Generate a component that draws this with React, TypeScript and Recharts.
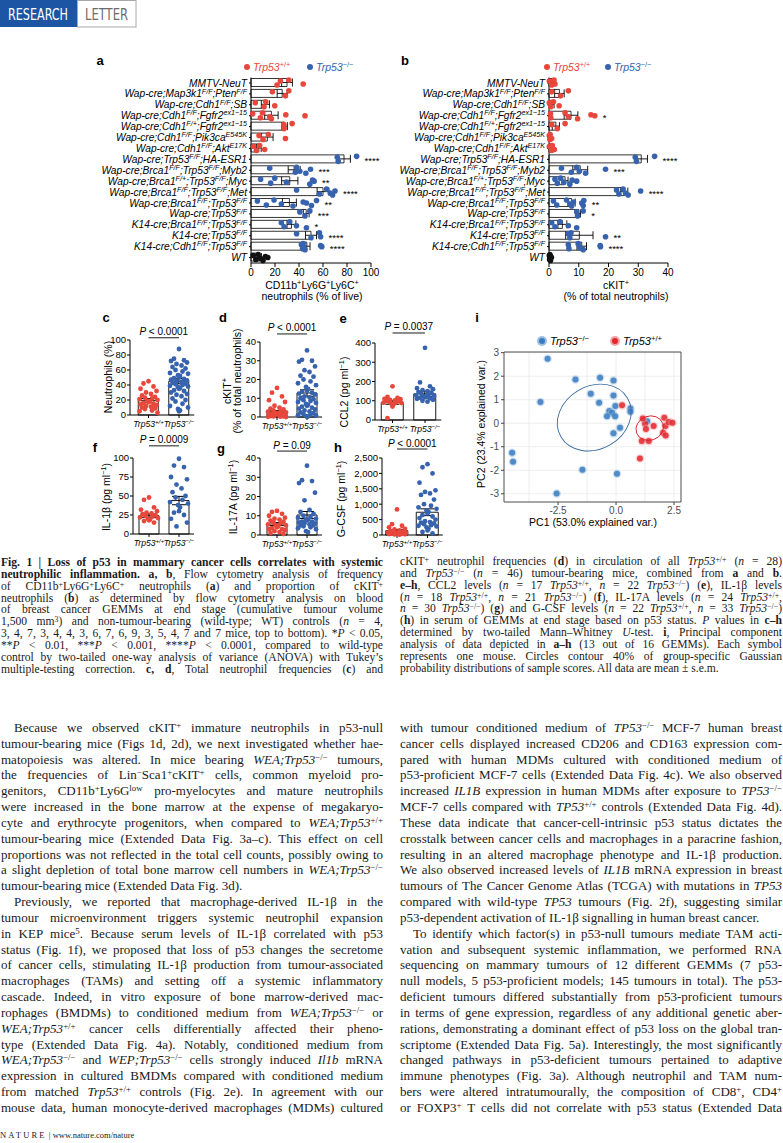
import React from "react";
import {
  Bar,
  CartesianGrid,
  ComposedChart,
  ErrorBar,
  ReferenceArea,
  ReferenceLine,
  Scatter,
  ScatterChart,
  XAxis,
  YAxis,
} from "recharts";

const SANS = "'Liberation Sans', Arial, Helvetica, sans-serif";
const SERIF = "'Liberation Serif', 'Times New Roman', serif";
const RED = "#e8473b";
const BLUE = "#3763ae";
const INK = "#1a1a1a";

// ---- panels a, b: GEMM rows (sup text between ^ marks)
const MODELS = [
  "MMTV-NeuT",
  "Wap-cre;Map3k1^F/F^;Pten^F/F^",
  "Wap-cre;Cdh1^F/F^;SB",
  "Wap-cre;Cdh1^F/F^;Fgfr2^ex1−15^",
  "Wap-cre;Cdh1^F/+^;Fgfr2^ex1−15^",
  "Wap-cre;Cdh1^F/F^;Pik3ca^E545K^",
  "Wap-cre;Cdh1^F/F^;Akt^E17K^",
  "Wap-cre;Trp53^F/F^;HA-ESR1",
  "Wap-cre;Brca1^F/F^;Trp53^F/F^;Myb2",
  "Wap-cre;Brca1^F/+^;Trp53^F/F^;Myc",
  "Wap-cre;Brca1^F/F^;Trp53^F/F^;Met",
  "Wap-cre;Brca1^F/F^;Trp53^F/F^",
  "Wap-cre;Trp53^F/F^",
  "K14-cre;Brca1^F/F^;Trp53^F/F^",
  "K14-cre;Trp53^F/F^",
  "K14-cre;Cdh1^F/F^;Trp53^F/F^",
  "WT",
];
const GENO = ["wt", "wt", "wt", "wt", "wt", "wt", "wt", "ko", "ko", "ko", "ko", "ko", "ko", "ko", "ko", "ko", "ctrl"];

const A_MEAN = [30, 26, 12, 17, 28, 13.6, 6.5, 77.5, 36, 32.3, 60, 32, 46, 33.7, 50, 46.5, 7.2];
const A_SEM = [4.5, 4.2, 3.4, 5.6, 2.3, 4.8, 2, 5.3, 5, 6.8, 4.9, 5.8, 2.4, 3.7, 4.6, 2.7, 1.6];
const A_PTS = [
  [24.5, 21.7, 31.5, 43.5],
  [17.8, 28.7, 31.5],
  [3.6, 10.9, 12.3, 19.8],
  [1.4, 7.8, 9.5, 15.6, 17, 29, 45],
  [27.3, 27.6, 34.3],
  [6.7, 10, 14.5, 28.7],
  [2.2, 4.5, 7.2, 11.4],
  [71.9, 72.7, 88],
  [15.6, 37, 38, 40.7, 45.7, 49.6],
  [8, 16.4, 19.8, 29.5, 49, 51.3, 52.6],
  [38, 57, 63, 66, 68, 70],
  [5.3, 12.8, 19.2, 25.3, 35, 43.5, 46.2, 50.4, 54.6],
  [40.7, 45, 49],
  [25.3, 27.6, 32.3, 37.9, 46.2],
  [38, 50, 57, 58],
  [42, 43, 43.5, 44, 45, 58, 59],
  [2, 4, 6, 8, 10, 12, 14],
];
const A_STARS = ["", "", "", "", "", "", "", "****", "***", "**", "****", "**", "***", "*", "****", "****", ""];
const A_TICKS = [0, 20, 40, 60, 80, 100];

const B_MEAN = [1, 3.5, 1, 7.4, 2.3, 0.4, 0.9, 31, 10.5, 5.4, 25.3, 7.6, 10, 4.5, 10.2, 11, 0.4];
const B_SEM = [0.4, 1.6, 0.7, 2.3, 1.2, 0.2, 0.3, 2.1, 2.5, 1, 1.2, 1.2, 0.6, 1.5, 4.6, 1.6, 0.1];
const B_PTS = [
  [0.1, 0.9, 1.7, 2],
  [0.9, 3.9, 6.5],
  [0.1, 0.6, 1.5, 3.4],
  [0.5, 0.6, 5.4, 6.5, 9.6, 14.1, 15.4],
  [0.9, 2.8, 5.4],
  [0.1, 0.3, 0.4, 0.9],
  [0.1, 0.9, 1.1, 1.8],
  [29, 29.4, 35.5],
  [4.2, 7.5, 9.3, 10.2, 12.3, 19],
  [2, 2.8, 3.9, 5, 7, 7.8, 9.3],
  [22.7, 23.5, 24.9, 25.7, 26.6, 30.8],
  [1.5, 2.6, 5.9, 7, 7.6, 8.2, 11, 11.5, 11.7],
  [9.3, 9.6, 11.5],
  [0.9, 2, 3.7, 6.5, 9.3],
  [6.5, 7, 7.4, 19],
  [6.5, 6.7, 9.8, 10.4, 11.5, 17.2, 17.3],
  [0.1, 0.2, 0.3, 0.4, 0.5, 0.6, 0.8],
];
const B_STARS = ["", "", "", "*", "", "", "", "****", "***", "", "****", "**", "*", "", "**", "****", ""];
const B_TICKS = [0, 10, 20, 30, 40];

// ---- panels c–h
const GROUPS = ["Trp53^+/+^", "Trp53^−/−^"];

const C_MEAN = [19.5, 45];
const C_SEM = [2.5, 3.5];
const C_WT = [45, 42, 38, 35, 32, 30, 28, 26, 24, 23, 22, 21, 20, 19, 18, 17, 16, 15, 14, 13, 12, 11, 10, 9, 8, 6, 5, 3];
const C_KO = [88, 75, 73, 72, 70, 68, 66, 64, 62, 60, 58, 56, 55, 53, 52, 50, 49, 48, 47, 46, 45, 44, 43, 42, 41, 40, 39, 38, 37, 36, 35, 33, 32, 30, 28, 27, 25, 22, 20, 18, 15, 12, 10, 8, 6, 5];

const D_MEAN = [2.8, 12.8];
const D_SEM = [0.7, 1.7];
const D_WT = [15.5, 13, 11, 9, 8, 6, 5, 4.5, 4, 3.5, 3, 2.8, 2.5, 2.2, 2, 1.8, 1.5, 1.3, 1.1, 1, 0.8, 0.6, 0.5, 0.4, 0.3, 0.2, 0.1, 0];
const D_KO = [35.5, 30.5, 30, 29.5, 27, 25, 24, 22, 21.5, 20, 19, 18, 17, 16, 15, 14, 13.5, 13, 12.5, 12, 11, 10.5, 10, 9.5, 9, 8.5, 8, 7.5, 7, 6.5, 6, 5.5, 5, 4.5, 4, 3.5, 3, 2.5, 2, 1.5, 1.2, 1, 0.8, 0.5, 0.3, 0.1];

const E_MEAN = [91, 136];
const E_SEM = [9, 14];
const E_WT = [175, 120, 115, 110, 108, 105, 102, 100, 98, 95, 92, 90, 88, 85, 80, 70, 10];
const E_KO = [375, 195, 175, 165, 160, 155, 150, 145, 140, 135, 130, 128, 125, 122, 120, 118, 115, 112, 110, 105, 100, 95];

const F_MEAN = [24, 44];
const F_SEM = [2.5, 5.5];
const F_WT = [48, 45, 35, 32, 30, 28, 27, 26, 25, 24, 23, 22, 21, 20, 19, 18, 17, 15];
const F_KO = [99, 90, 88, 75, 72, 65, 60, 55, 50, 48, 45, 42, 40, 38, 35, 30, 28, 25, 20, 15, 10];

const G_MEAN = [5.7, 10.4];
const G_SEM = [0.8, 1.8];
const G_WT = [12.5, 12, 11, 10, 9, 8.5, 8, 7.5, 7, 6.5, 6, 5.5, 5, 5, 4.5, 4, 3.5, 3, 3, 2.5, 2, 1.5, 1, 0.5];
const G_KO = [36, 28.5, 28, 27, 22, 18, 13, 12, 11, 10, 9.5, 9, 8.5, 8, 8, 7.5, 7, 7, 6.5, 6, 6, 5.5, 5, 5, 4.5, 4, 3.5, 3, 2, 1.5];

const H_MEAN = [141, 739];
const H_SEM = [40, 110];
const H_WT = [830, 350, 300, 250, 200, 180, 150, 130, 120, 100, 90, 80, 70, 60, 50, 45, 40, 35, 30, 25, 20, 10];
const H_KO = [2300, 2200, 2000, 1700, 1450, 1400, 1350, 1300, 1150, 1000, 950, 900, 850, 800, 750, 700, 650, 600, 550, 500, 450, 420, 400, 380, 350, 320, 300, 280, 250, 200, 150, 100, 50];

// ---- panel i: PCA scores [PC1, PC2]
const PCA_KO: [number, number][] = [
  [-2.95, 2.74], [-3.26, 0.9], [-4.48, -1.26], [-4.44, -1.64], [-2.56, -2.99],
  [-1.75, 1.86], [-0.69, 1.94], [-0.11, 1.82], [-1.09, 1.25], [-0.11, 1.18],
  [-0.73, 0.87], [-0.03, 0.73], [-0.29, 0.52], [-0.17, 0.45], [-0.39, 0.3],
  [-0.04, 0.3], [0.62, 0.63], [0.62, 0.49], [0.17, -0.19], [-0.11, -0.43],
  [-1.45, -1.98], [0.04, -2.15], [1.34, 0.08],
];
const PCA_WT: [number, number][] = [
  [0.26, 0.76], [1.25, -0.02], [1.29, -0.24], [1.62, -0.12], [1.11, -0.76],
  [1.41, -0.76], [1.03, -1.5], [2.08, 0.23], [2.13, -0.12], [2.03, -0.4],
  [2.14, -0.52], [2.27, 0.05], [2.43, 0.02], [1.15, 0.2],
];
// 40% contours: centre, semi-axes (PC1 units), tilt
const ELL_KO = { x: -0.94, y: 0.24, rx: 1.66, ry: 1.36, tilt: -30 };
const ELL_WT = { x: 1.45, y: -0.21, rx: 0.6, ry: 0.52, tilt: -20 };
const PCA_X: [number, number] = [-4.83, 2.8];
const PCA_Y: [number, number] = [-3.35, 3.03];

// ---- text
const CAP_LEFT = [
  "<b>Fig. 1 | Loss of p53 in mammary cancer cells correlates with systemic</b>",
  "<b>neutrophilic inflammation. a, b</b>, Flow cytometry analysis of frequency",
  "of CD11b<sup>+</sup>Ly6G<sup>+</sup>Ly6C<sup>+</sup> neutrophils (<b>a</b>) and proportion of cKIT<sup>+</sup>",
  "neutrophils (<b>b</b>) as determined by flow cytometry analysis on blood",
  "of breast cancer GEMMs at end stage (cumulative tumour volume",
  "1,500 mm<sup>3</sup>) and non-tumour-bearing (wild-type; WT) controls (<i>n</i> = 4,",
  "3, 4, 7, 3, 4, 4, 3, 6, 7, 6, 9, 3, 5, 4, 7 and 7 mice, top to bottom). *<i>P</i> &lt; 0.05,",
  "**<i>P</i> &lt; 0.01, ***<i>P</i> &lt; 0.001, ****<i>P</i> &lt; 0.0001, compared to wild-type",
  "control by two-tailed one-way analysis of variance (ANOVA) with Tukey’s",
  "multiple-testing correction. <b>c, d</b>, Total neutrophil frequencies (<b>c</b>) and",
];
const CAP_RIGHT = [
  "cKIT<sup>+</sup> neutrophil frequencies (<b>d</b>) in circulation of all <i>Trp53</i><sup>+/+</sup> (<i>n</i> = 28)",
  "and <i>Trp53</i><sup>−/−</sup> (<i>n</i> = 46) tumour-bearing mice, combined from <b>a</b> and <b>b</b>.",
  "<b>e–h</b>, CCL2 levels (<i>n</i> = 17 <i>Trp53</i><sup>+/+</sup>, <i>n</i> = 22 <i>Trp53</i><sup>−/−</sup>) (<b>e</b>), IL-1β levels",
  "(<i>n</i> = 18 <i>Trp53</i><sup>+/+</sup>, <i>n</i> = 21 <i>Trp53</i><sup>−/−</sup>) (<b>f</b>), IL-17A levels (<i>n</i> = 24 <i>Trp53</i><sup>+/+</sup>,",
  "<i>n</i> = 30 <i>Trp53</i><sup>−/−</sup>) (<b>g</b>) and G-CSF levels (<i>n</i> = 22 <i>Trp53</i><sup>+/+</sup>, <i>n</i> = 33 <i>Trp53</i><sup>−/−</sup>)",
  "(<b>h</b>) in serum of GEMMs at end stage based on p53 status. <i>P</i> values in <b>c–h</b>",
  "determined by two-tailed Mann–Whitney <i>U</i>-test. <b>i</b>, Principal component",
  "analysis of data depicted in <b>a–h</b> (13 out of 16 GEMMs). Each symbol",
  "represents one mouse. Circles contour 40% of group-specific Gaussian",
  "probability distributions of sample scores. All data are mean ± s.e.m.",
];
const BODY_LEFT_1 = [
  "Because we observed cKIT<sup>+</sup> immature neutrophils in p53-null",
  "tumour-bearing mice (Figs 1d, 2d), we next investigated whether hae-",
  "matopoiesis was altered. In mice bearing <i>WEA;Trp53</i><sup>−/−</sup> tumours,",
  "the frequencies of Lin<sup>−</sup>Sca1<sup>+</sup>cKIT<sup>+</sup> cells, common myeloid pro-",
  "genitors, CD11b<sup>+</sup>Ly6G<sup>low</sup> pro-myelocytes and mature neutrophils",
  "were increased in the bone marrow at the expense of megakaryo-",
  "cyte and erythrocyte progenitors, when compared to <i>WEA;Trp53</i><sup>+/+</sup>",
  "tumour-bearing mice (Extended Data Fig. 3a–c). This effect on cell",
  "proportions was not reflected in the total cell counts, possibly owing to",
  "a slight depletion of total bone marrow cell numbers in <i>WEA;Trp53</i><sup>−/−</sup>",
  "tumour-bearing mice (Extended Data Fig. 3d).",
];
const BODY_LEFT_2 = [
  "Previously, we reported that macrophage-derived IL-1β in the",
  "tumour microenvironment triggers systemic neutrophil expansion",
  "in KEP mice<sup>5</sup>. Because serum levels of IL-1β correlated with p53",
  "status (Fig. 1f), we proposed that loss of p53 changes the secretome",
  "of cancer cells, stimulating IL-1β production from tumour-associated",
  "macrophages (TAMs) and setting off a systemic inflammatory",
  "cascade. Indeed, in vitro exposure of bone marrow-derived mac-",
  "rophages (BMDMs) to conditioned medium from <i>WEA;Trp53</i><sup>−/−</sup> or",
  "<i>WEA;Trp53</i><sup>+/+</sup> cancer cells differentially affected their pheno-",
  "type (Extended Data Fig. 4a). Notably, conditioned medium from",
  "<i>WEA;Trp53</i><sup>−/−</sup> and <i>WEP;Trp53</i><sup>−/−</sup> cells strongly induced <i>Il1b</i> mRNA",
  "expression in cultured BMDMs compared with conditioned medium",
  "from matched <i>Trp53</i><sup>+/+</sup> controls (Fig. 2e). In agreement with our",
  "mouse data, human monocyte-derived macrophages (MDMs) cultured",
];
const BODY_RIGHT_1 = [
  "with tumour conditioned medium of <i>TP53</i><sup>−/−</sup> MCF-7 human breast",
  "cancer cells displayed increased CD206 and CD163 expression com-",
  "pared with human MDMs cultured with conditioned medium of",
  "p53-proficient MCF-7 cells (Extended Data Fig. 4c). We also observed",
  "increased <i>IL1B</i> expression in human MDMs after exposure to <i>TP53</i><sup>−/−</sup>",
  "MCF-7 cells compared with <i>TP53</i><sup>+/+</sup> controls (Extended Data Fig. 4d).",
  "These data indicate that cancer-cell-intrinsic p53 status dictates the",
  "crosstalk between cancer cells and macrophages in a paracrine fashion,",
  "resulting in an altered macrophage phenotype and IL-1β production.",
  "We also observed increased levels of <i>IL1B</i> mRNA expression in breast",
  "tumours of The Cancer Genome Atlas (TCGA) with mutations in <i>TP53</i>",
  "compared with wild-type <i>TP53</i> tumours (Fig. 2f), suggesting similar",
  "p53-dependent activation of IL-1β signalling in human breast cancer.",
];
const BODY_RIGHT_2 = [
  "To identify which factor(s) in p53-null tumours mediate TAM acti-",
  "vation and subsequent systemic inflammation, we performed RNA",
  "sequencing on mammary tumours of 12 different GEMMs (7 p53-",
  "null models, 5 p53-proficient models; 145 tumours in total). The p53-",
  "deficient tumours differed substantially from p53-proficient tumours",
  "in terms of gene expression, regardless of any additional genetic aber-",
  "rations, demonstrating a dominant effect of p53 loss on the global tran-",
  "scriptome (Extended Data Fig. 5a). Interestingly, the most significantly",
  "changed pathways in p53-deficient tumours pertained to adaptive",
  "immune phenotypes (Fig. 3a). Although neutrophil and TAM num-",
  "bers were altered intratumourally, the composition of CD8<sup>+</sup>, CD4<sup>+</sup>",
  "or FOXP3<sup>+</sup> T cells did not correlate with p53 status (Extended Data",
];

// ---------- helpers
function rich(s: string, size: number) {
  const parts = s.split("^");
  const shift = size * 0.38;
  let up = false;
  return parts.map((p, i) => {
    const sup = i % 2 === 1;
    let dy: number | undefined;
    if (sup && !up) {
      dy = -shift;
      up = true;
    } else if (!sup && up) {
      dy = shift;
      up = false;
    }
    if (!p) return null;
    return (
      <tspan key={i} dy={dy} fontSize={sup ? size * 0.7 : size}>
        {p}
      </tspan>
    );
  });
}

const modelTick = (p: any) => (
  <text x={p.x} y={p.y} dy={3.6} textAnchor="end" fontSize={10.2} fontStyle="italic" fontFamily={SANS} fill="#000">
    {rich(String(p.payload.value), 10.2)}
  </text>
);

const groupTick = (p: any) => (
  <text x={p.x} y={p.y} dy={7} textAnchor="middle" fontSize={8.6} fontStyle="italic" fontFamily={SANS} fill="#000">
    {rich(String(p.payload.value), 8.6)}
  </text>
);

const DOT_COL: Record<string, string> = { wt: RED, ko: BLUE, ctrl: "#111" };
const ROW_JIT = [-2, 2, -3, 1, 3, -1, 0, 2.5, -2.5];
const rowDot = (p: any) => {
  if (!Number.isFinite(p.cx) || !Number.isFinite(p.cy)) return <g />;
  return <circle cx={p.cx} cy={p.cy + ROW_JIT[p.payload.k % ROW_JIT.length]} r={2.8} fill={DOT_COL[p.payload.g]} />;
};
const starMark = (p: any) => {
  if (!Number.isFinite(p.cx) || !Number.isFinite(p.cy)) return <g />;
  return (
    <text x={p.cx + 8} y={p.cy + 5} fontSize={9.5} fontFamily={SANS} fill="#000">
      {p.payload.s}
    </text>
  );
};

const SWARM = [0, -5, 5, -8, 8, -2.5, 2.5, -6.5, 6.5, -3.5, 3.5, -9, 9, -1, 1];
const swarmDot = (p: any) => {
  if (!Number.isFinite(p.cx) || !Number.isFinite(p.cy)) return <g />;
  return (
    <circle
      cx={p.cx + SWARM[p.payload.k % SWARM.length]}
      cy={p.cy}
      r={2.4}
      fill={p.payload.g === GROUPS[0] ? RED : BLUE}
    />
  );
};

const PLabel = (props: any) => {
  const vb = props.viewBox || {};
  const cx = (vb.x || 0) + (vb.width || 0) / 2;
  return (
    <text x={cx} y={(vb.y || 0) - 2.5} textAnchor="middle" fontSize={10} fontFamily={SANS} fill="#000">
      <tspan fontStyle="italic">P</tspan>
      {String(props.text).slice(1)}
    </text>
  );
};

const Sup = ({ children }: { children: React.ReactNode }) => (
  <span style={{ fontSize: "0.7em", verticalAlign: "0.45em", lineHeight: 0 }}>{children}</span>
);

type TProps = {
  x: number;
  y: number;
  children: React.ReactNode;
  size?: number;
  anchor?: "start" | "middle" | "end";
  rot?: number;
  style?: React.CSSProperties;
};
const T = ({ x, y, children, size = 10, anchor = "middle", rot = 0, style }: TProps) => {
  const dx = anchor === "middle" ? -50 : anchor === "end" ? -100 : 0;
  return (
    <div
      style={{
        position: "absolute",
        left: x,
        top: y,
        transform: `translate(${dx}%, -50%) rotate(${rot}deg)`,
        whiteSpace: "nowrap",
        fontSize: size,
        fontFamily: SANS,
        lineHeight: 1,
        color: "#000",
        ...style,
      }}
    >
      {children}
    </div>
  );
};
const Letter = ({ x, y, l }: { x: number; y: number; l: string }) => (
  <T x={x} y={y} size={13} style={{ fontWeight: 700 }}>
    {l}
  </T>
);
const Dot = ({ x, y, c, r = 3 }: { x: number; y: number; c: string; r?: number }) => (
  <div style={{ position: "absolute", left: x - r, top: y - r, width: 2 * r, height: 2 * r, borderRadius: "50%", background: c }} />
);

// ---------- panel a / b
type RowCfg = {
  left: number;
  axisX: number;
  plotRight: number;
  mean: number[];
  sem: number[];
  pts: number[][];
  stars: string[];
  ticks: number[];
};
function RowPanel({ left, axisX, plotRight, mean, sem, pts, stars, ticks }: RowCfg) {
  const top = 60;
  const y1 = 77.5;
  const y2 = 263;
  const bottom = 310;
  const right = plotRight + 26;
  const rows = MODELS.map((name, i) => ({ name, mean: mean[i], sem: sem[i] }));
  const dots = pts.flatMap((vals, r) => vals.map((v, k) => ({ name: MODELS[r], v, k, g: GENO[r] })));
  const marks = stars
    .map((s, r) => ({ name: MODELS[r], v: Math.max(...pts[r]), s }))
    .filter((d) => d.s);
  return (
    <div style={{ position: "absolute", left, top }}>
      <ComposedChart
        layout="vertical"
        width={right - left}
        height={bottom - top}
        data={rows}
        margin={{ top: y1 - top, right: right - plotRight, bottom: 0, left: 0 }}
      >
        <XAxis
          type="number"
          domain={[ticks[0], ticks[ticks.length - 1]]}
          ticks={ticks}
          interval={0}
          height={bottom - y2}
          stroke="#000"
          tickSize={4}
          tick={{ fontSize: 10, fill: "#000", fontFamily: SANS }}
        />
        <YAxis
          type="category"
          dataKey="name"
          allowDuplicatedCategory={false}
          interval={0}
          width={axisX - left}
          stroke="#000"
          tickSize={2}
          tickMargin={2}
          tick={modelTick}
        />
        <Bar dataKey="mean" barSize={8} fill="#fff" stroke="#000" strokeWidth={0.8} isAnimationActive={false}>
          <ErrorBar dataKey="sem" direction="x" width={4} stroke="#000" strokeWidth={0.9} />
        </Bar>
        <Scatter data={dots} dataKey="v" shape={rowDot} isAnimationActive={false} />
        <Scatter data={marks} dataKey="v" shape={starMark} isAnimationActive={false} />
      </ComposedChart>
    </div>
  );
}

// ---------- panels c–h
type DotCfg = {
  axisX: number;
  c1: number;
  c2: number;
  yTop: number;
  yBot: number;
  domain: [number, number];
  ticks: number[];
  fmt?: (v: number) => string;
  bar: number;
  mean: number[];
  sem: number[];
  wt: number[];
  ko: number[];
  p: string;
  pAt: number;
};
function DotPanel({ cfg }: { cfg: DotCfg }) {
  const band = cfg.c2 - cfg.c1;
  const x2 = cfg.c2 + band / 2;
  const padL = cfg.c1 - band / 2 - cfg.axisX;
  const left = cfg.axisX - 42;
  const top = cfg.yTop - 30;
  const right = x2 + 6;
  const bottom = cfg.yBot + 22;
  const bars = GROUPS.map((g, i) => ({ g, mean: cfg.mean[i], sem: cfg.sem[i] }));
  const dots = [
    ...cfg.wt.map((v, k) => ({ g: GROUPS[0], v, k })),
    ...cfg.ko.map((v, k) => ({ g: GROUPS[1], v, k })),
  ];
  return (
    <div style={{ position: "absolute", left, top }}>
      <ComposedChart
        width={right - left}
        height={bottom - top}
        data={bars}
        margin={{ top: cfg.yTop - top, right: right - x2, bottom: 0, left: 0 }}
      >
        <XAxis
          dataKey="g"
          type="category"
          allowDuplicatedCategory={false}
          interval={0}
          height={bottom - cfg.yBot}
          padding={{ left: padL, right: 0 }}
          stroke="#000"
          tickSize={3}
          tick={groupTick}
        />
        <YAxis
          type="number"
          domain={cfg.domain}
          ticks={cfg.ticks}
          interval={0}
          width={cfg.axisX - left}
          stroke="#000"
          tickSize={3}
          tickMargin={1}
          tickFormatter={cfg.fmt}
          tick={{ fontSize: 9.5, fill: "#000", fontFamily: SANS }}
        />
        <Scatter data={dots} dataKey="v" shape={swarmDot} isAnimationActive={false} />
        <Bar dataKey="mean" barSize={cfg.bar} fill="none" stroke="#000" strokeWidth={0.9} isAnimationActive={false}>
          <ErrorBar dataKey="sem" direction="y" width={7} stroke="#000" strokeWidth={1} />
        </Bar>
        <ReferenceLine
          segment={[
            { x: GROUPS[0], y: cfg.pAt },
            { x: GROUPS[1], y: cfg.pAt },
          ]}
          stroke="#000"
          strokeWidth={0.9}
          ifOverflow="visible"
          label={<PLabel text={cfg.p} />}
        />
      </ComposedChart>
    </div>
  );
}

const comma = (v: number) => v.toLocaleString("en-US");
const SMALL: DotCfg[] = [
  { axisX: 130, c1: 148.5, c2: 179, yTop: 340, yBot: 415, domain: [0, 100], ticks: [0, 20, 40, 60, 80, 100], bar: 20, mean: C_MEAN, sem: C_SEM, wt: C_WT, ko: C_KO, p: "P < 0.0001", pAt: 103 },
  { axisX: 260, c1: 277, c2: 307, yTop: 342, yBot: 417, domain: [0, 40], ticks: [0, 10, 20, 30, 40], bar: 20, mean: D_MEAN, sem: D_SEM, wt: D_WT, ko: D_KO, p: "P < 0.0001", pAt: 44.3 },
  { axisX: 375, c1: 392.5, c2: 425, yTop: 343, yBot: 420, domain: [0, 400], ticks: [0, 100, 200, 300, 400], bar: 22, mean: E_MEAN, sem: E_SEM, wt: E_WT, ko: E_KO, p: "P = 0.0037", pAt: 452 },
  { axisX: 133, c1: 149, c2: 179, yTop: 458, yBot: 534, domain: [0, 100], ticks: [0, 25, 50, 75, 100], bar: 20, mean: F_MEAN, sem: F_SEM, wt: F_WT, ko: F_KO, p: "P = 0.0009", pAt: 116 },
  { axisX: 260, c1: 277, c2: 307, yTop: 458, yBot: 535, domain: [0, 40], ticks: [0, 10, 20, 30, 40], bar: 20, mean: G_MEAN, sem: G_SEM, wt: G_WT, ko: G_KO, p: "P = 0.09", pAt: 43.6 },
  { axisX: 382, c1: 397, c2: 427.5, yTop: 458, yBot: 535, domain: [0, 2500], ticks: [0, 500, 1000, 1500, 2000, 2500], fmt: comma, bar: 22, mean: H_MEAN, sem: H_SEM, wt: H_WT, ko: H_KO, p: "P < 0.0001", pAt: 2792 },
];

// ---------- panel i
const PCA_PX = (681 - 504) / (PCA_X[1] - PCA_X[0]);
const pcaDot = (c: string, halo: string) => (p: any) => {
  if (!Number.isFinite(p.cx) || !Number.isFinite(p.cy)) return <g />;
  return (
    <g>
      <circle cx={p.cx} cy={p.cy} r={4.3} fill={halo} fillOpacity={0.45} />
      <circle cx={p.cx} cy={p.cy} r={3} fill={c} fillOpacity={0.85} />
    </g>
  );
};
const ellipse = (c: string) => (p: any) => {
  if (!Number.isFinite(p.cx) || !Number.isFinite(p.cy)) return <g />;
  const e = p.payload;
  return (
    <ellipse
      cx={p.cx}
      cy={p.cy}
      rx={e.rx * PCA_PX}
      ry={e.ry * PCA_PX}
      transform={`rotate(${e.tilt} ${p.cx} ${p.cy})`}
      fill="none"
      stroke={c}
      strokeWidth={0.9}
    />
  );
};
const PCA_BLUE = "#3b7cc0";
const PCA_RED = "#e2282f";

function PcaPanel() {
  const left = 470;
  const top = 340;
  const x1 = 504;
  const x2 = 681;
  const y1 = 352;
  const y2 = 502;
  const right = 690;
  const bottom = 520;
  const ko = PCA_KO.map(([x, y]) => ({ x, y }));
  const wt = PCA_WT.map(([x, y]) => ({ x, y }));
  return (
    <div style={{ position: "absolute", left, top }}>
      <ScatterChart
        width={right - left}
        height={bottom - top}
        margin={{ top: y1 - top, right: right - x2, bottom: 0, left: 0 }}
      >
        <CartesianGrid
          stroke="#e6e6e6"
          strokeWidth={0.7}
          horizontalValues={[-3, -2.5, -2, -1.5, -1, -0.5, 0, 0.5, 1, 1.5, 2, 2.5, 3]}
          verticalValues={[-3.75, -2.5, -1.25, 0, 1.25, 2.5]}
        />
        <XAxis
          type="number"
          dataKey="x"
          domain={PCA_X}
          allowDataOverflow
          ticks={[-2.5, 0, 2.5]}
          tickFormatter={(v: number) => v.toFixed(1)}
          height={bottom - y2}
          axisLine={false}
          stroke="#444"
          tickSize={3}
          tick={{ fontSize: 10, fill: "#4d4d4d", fontFamily: SANS }}
        />
        <YAxis
          type="number"
          dataKey="y"
          domain={PCA_Y}
          allowDataOverflow
          ticks={[-3, -2, -1, 0, 1, 2, 3]}
          width={x1 - left}
          axisLine={false}
          stroke="#444"
          tickSize={3}
          tick={{ fontSize: 10, fill: "#4d4d4d", fontFamily: SANS }}
        />
        <ReferenceArea x1={PCA_X[0]} x2={PCA_X[1]} y1={PCA_Y[0]} y2={PCA_Y[1]} fill="none" stroke="#4d4d4d" strokeWidth={1} />
        <Scatter data={ko} shape={pcaDot(PCA_BLUE, "#8fb8e0")} isAnimationActive={false} />
        <Scatter data={wt} shape={pcaDot(PCA_RED, "#f29a9a")} isAnimationActive={false} />
        <Scatter data={[ELL_KO]} shape={ellipse("#3a6aa0")} isAnimationActive={false} />
        <Scatter data={[ELL_WT]} shape={ellipse("#d9262e")} isAnimationActive={false} />
      </ScatterChart>
    </div>
  );
}

// ---------- text blocks
type Para = { lines: string[]; indent: boolean; end: boolean };
function TextBlock({ x, top, w, lh, size, paras }: { x: number; top: number; w: number; lh: number; size: number; paras: Para[] }) {
  let row = 0;
  const out: React.ReactNode[] = [];
  paras.forEach((p, pi) =>
    p.lines.forEach((line, li) => {
      const first = li === 0 && p.indent;
      const last = li === p.lines.length - 1 && p.end;
      out.push(
        <div
          key={`${pi}-${li}`}
          className="tx"
          style={{
            position: "absolute",
            left: x + (first ? 13 : 0),
            top: top + row * lh,
            width: w - (first ? 13 : 0),
            height: lh,
            lineHeight: `${lh}px`,
            fontSize: size,
            fontFamily: SERIF,
            color: INK,
            whiteSpace: "nowrap",
            textAlign: last ? "left" : "justify",
            textAlignLast: last ? "left" : "justify",
          }}
          dangerouslySetInnerHTML={{ __html: line }}
        />
      );
      row += 1;
    })
  );
  return <>{out}</>;
}

const TrpWT = () => (
  <>
    <i>Trp53</i>
    <Sup>+/+</Sup>
  </>
);
const TrpKO = () => (
  <>
    <i>Trp53</i>
    <Sup>−/−</Sup>
  </>
);
const PgMl = () => (
  <>
    (pg ml<Sup>−1</Sup>)
  </>
);

export default function App() {
  return (
    <div style={{ position: "absolute", left: 0, top: 0, width: 783, height: 1143, overflow: "hidden", background: "#fff" }}>
      <style>{`.tx sup{font-size:0.68em;line-height:0;vertical-align:0.42em}`}</style>

      {/* header */}
      <svg width={150} height={30} style={{ position: "absolute", left: 0, top: 0 }}>
        <rect x={0} y={0} width={77} height={27} fill="#1b55a3" />
        <rect x={77.5} y={0.5} width={58.5} height={26.5} fill="#fff" stroke="#a8a8a8" />
        <text x={8} y={20.3} fontSize={16} fill="#fff" fontFamily="'DejaVu Sans Condensed', 'DejaVu Sans', sans-serif" textLength={60} lengthAdjust="spacingAndGlyphs">
          RESEARCH
        </text>
        <text x={85} y={20.3} fontSize={16} fill="#6b6b6b" fontFamily="'DejaVu Sans Condensed', 'DejaVu Sans', sans-serif" textLength={43} lengthAdjust="spacingAndGlyphs">
          LETTER
        </text>
      </svg>

      {/* panel a */}
      <Letter x={100} y={60} l="a" />
      <Dot x={247} y={67} c={RED} />
      <T x={253} y={67} anchor="start" size={10.5} style={{ color: RED }}>
        <TrpWT />
      </T>
      <Dot x={310} y={67} c={BLUE} />
      <T x={316} y={67} anchor="start" size={10.5} style={{ color: BLUE }}>
        <TrpKO />
      </T>
      <RowPanel left={90} axisX={251} plotRight={371} mean={A_MEAN} sem={A_SEM} pts={A_PTS} stars={A_STARS} ticks={A_TICKS} />
      <T x={312} y={285} size={10.5}>
        CD11b<Sup>+</Sup>Ly6G<Sup>+</Sup>Ly6C<Sup>+</Sup>
      </T>
      <T x={312} y={296} size={10.5}>
        neutrophils (% of live)
      </T>

      {/* panel b */}
      <Letter x={405} y={60} l="b" />
      <Dot x={547} y={67} c={RED} />
      <T x={553} y={67} anchor="start" size={10.5} style={{ color: RED }}>
        <TrpWT />
      </T>
      <Dot x={608} y={67} c={BLUE} />
      <T x={614} y={67} anchor="start" size={10.5} style={{ color: BLUE }}>
        <TrpKO />
      </T>
      <RowPanel left={395} axisX={549} plotRight={668} mean={B_MEAN} sem={B_SEM} pts={B_PTS} stars={B_STARS} ticks={B_TICKS} />
      <T x={616} y={285} size={10.5}>
        cKIT<Sup>+</Sup>
      </T>
      <T x={616} y={296} size={10.5}>
        (% of total neutrophils)
      </T>

      {/* panels c–h */}
      {SMALL.map((cfg, i) => (
        <DotPanel key={i} cfg={cfg} />
      ))}
      <Letter x={106} y={317} l="c" />
      <Letter x={223} y={317} l="d" />
      <Letter x={343} y={318} l="e" />
      <Letter x={95} y={447} l="f" />
      <Letter x={221} y={448} l="g" />
      <Letter x={338} y={447} l="h" />
      <T x={108} y={377} rot={-90} size={10.5}>
        Neutrophils (%)
      </T>
      <T x={227} y={391} rot={-90} size={10.5}>
        cKIT<Sup>+</Sup>
      </T>
      <T x={237} y={381} rot={-90} size={10.5}>
        (% of total neutrophils)
      </T>
      <T x={344} y={392} rot={-90} size={10.5}>
        CCL2 <PgMl />
      </T>
      <T x={106} y={497} rot={-90} size={10.5}>
        IL-1β <PgMl />
      </T>
      <T x={233} y={497} rot={-90} size={10.5}>
        IL-17A <PgMl />
      </T>
      <T x={341} y={499} rot={-90} size={10.5}>
        G-CSF <PgMl />
      </T>

      {/* panel i */}
      <Letter x={477} y={317} l="i" />
      <Dot x={542} y={341} c="#9cc0e4" r={5} />
      <Dot x={542} y={341} c={PCA_BLUE} r={3.3} />
      <T x={550} y={341} anchor="start" size={11}>
        <TrpKO />
      </T>
      <Dot x={615} y={341} c="#f4a3a3" r={5} />
      <Dot x={615} y={341} c={PCA_RED} r={3.3} />
      <T x={623} y={341} anchor="start" size={11}>
        <TrpWT />
      </T>
      <PcaPanel />
      <T x={481} y={424} rot={-90} size={10.5}>
        PC2 (23.4% explained var.)
      </T>
      <T x={593} y={522} size={10.5}>
        PC1 (53.0% explained var.)
      </T>

      {/* caption */}
      <TextBlock x={1} top={557} w={382} lh={11.85} size={11.6} paras={[{ lines: CAP_LEFT, indent: false, end: false }]} />
      <TextBlock x={400} top={556} w={382} lh={11.85} size={11.6} paras={[{ lines: CAP_RIGHT, indent: false, end: true }]} />

      {/* body */}
      <TextBlock
        x={1}
        top={720}
        w={382}
        lh={15.83}
        size={13}
        paras={[
          { lines: BODY_LEFT_1, indent: true, end: true },
          { lines: BODY_LEFT_2, indent: true, end: false },
        ]}
      />
      <TextBlock
        x={400}
        top={720}
        w={382}
        lh={15.83}
        size={13}
        paras={[
          { lines: BODY_RIGHT_1, indent: false, end: true },
          { lines: BODY_RIGHT_2, indent: true, end: false },
        ]}
      />

      {/* footer */}
      <div style={{ position: "absolute", left: 0, top: 1131, fontSize: 8.5, lineHeight: 1, fontFamily: SERIF, color: INK, whiteSpace: "nowrap" }}>
        <span style={{ letterSpacing: 2.2 }}>NATURE</span> | www.nature.com/nature
      </div>
    </div>
  );
}
